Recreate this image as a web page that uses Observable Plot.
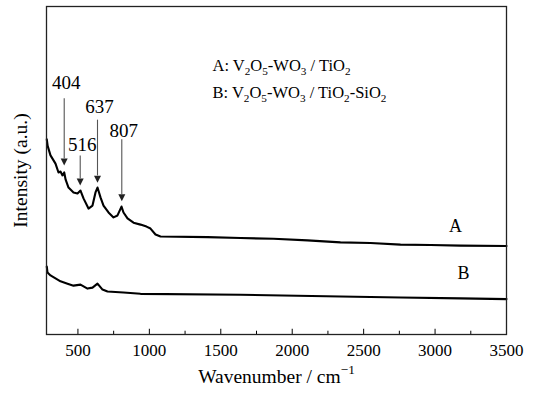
<!DOCTYPE html>
<html><head><meta charset="utf-8">
<script src="https://cdn.jsdelivr.net/npm/d3@7"></script>
<script src="https://cdn.jsdelivr.net/npm/@observablehq/plot@0.6"></script>
<style>
body{margin:0;background:#fff}
#chart svg, #chart svg text {font-family: "Liberation Serif", "Times New Roman", serif !important;}
</style>
</head><body><div id="chart"></div>
<script>
// Spectrum A: V2O5-WO3 / TiO2
const wnA = [282, 288, 308, 343, 364, 378, 392, 404, 414, 434, 469, 497, 518, 539, 574, 602, 623, 637, 658, 679, 714, 749, 777, 805, 819, 847, 889, 938, 980, 1008, 1043, 1078, 1407, 1638, 1869, 2107, 2338, 2548, 2758, 2968, 3178, 3500];
const intA = [59.5, 57.5, 54.6, 52.1, 49.4, 49.7, 48.5, 49.4, 47.2, 44.8, 43.3, 43.0, 43.9, 41.5, 38.4, 39.3, 43.3, 44.8, 41.8, 39.3, 37.2, 35.7, 36.3, 39.0, 37.2, 35.4, 34.1, 33.5, 32.9, 32.3, 30.5, 29.9, 29.7, 29.4, 29.2, 28.7, 28.1, 27.9, 27.4, 27.3, 27.1, 27.0];
// Spectrum B: V2O5-WO3 / TiO2-SiO2
const wnB = [282, 287, 308, 343, 378, 427, 469, 518, 567, 602, 637, 672, 707, 819, 938, 1638, 2338, 2758, 3178, 3500];
const intB = [20.7, 18.9, 18.0, 17.1, 16.2, 15.5, 14.9, 15.2, 14.0, 14.3, 15.5, 13.7, 13.1, 12.8, 12.4, 12.1, 11.6, 11.3, 11.0, 10.8];

const peaks = [404, 516, 637, 807];
const peakLabels = ["404", "516", "637", "807"];
const xTicks = [500, 1000, 1500, 2000, 2500, 3000, 3500];
const xMinorTicks = [750, 1250, 1750, 2250, 2750, 3250];
const legendLabels = ["A: V2O5-WO3 / TiO2", "B: V2O5-WO3 / TiO2-SiO2"];
const curveLabels = ["A", "B"];
const xTitle = "Wavenumber / cm−1";
const yTitle = "Intensity (a.u.)";

const dataA = wnA.map((w, i) => ({wn: w, v: intA[i]}));
const dataB = wnB.map((w, i) => ({wn: w, v: intB[i]}));

// annotation layout (intensity units)
const arrowTop = [72, 54.6, 65.5, 59.5];
const arrowTip = [51.5, 45.4, 46.3, 40.6];
const labelY = [76.8, 57.9, 69.5, 62.2];
const peakData = peaks.map((p, i) => ({wn: p, label: peakLabels[i], y1: arrowTop[i], y2: arrowTip[i] + 2.2, tip: arrowTip[i], ly: labelY[i]}));

const triDown = {draw(ctx) { ctx.moveTo(0, 0); ctx.lineTo(-3.5, -7); ctx.lineTo(3.5, -7); ctx.closePath(); }};

const serif = "Liberation Serif, Times New Roman, serif";
const chart = Plot.plot({
  width: 534, height: 397,
  marginLeft: 46, marginRight: 28, marginTop: 6, marginBottom: 63,
  style: {fontFamily: serif, background: "white", color: "black"},
  x: {domain: [280, 3500], label: null},
  y: {domain: [0, 100], axis: null},
  marks: [
    Plot.line(dataA, {x: "wn", y: "v", stroke: "black", strokeWidth: 2.1}),
    Plot.line(dataB, {x: "wn", y: "v", stroke: "black", strokeWidth: 2.1}),
    Plot.link(peakData, {x1: "wn", x2: "wn", y1: "y1", y2: "y2", stroke: "#555", strokeWidth: 1.1}),
    Plot.dot(peakData, {x: "wn", y: "tip", symbol: triDown, fill: "#222", stroke: null}),
    Plot.text(peakData, {x: "wn", y: "ly", text: "label", fontSize: 19, dx: 2, fill: "black", fontFamily: serif}),
    Plot.text(legendLabels, {x: 1442, y: (d, i) => [82.0, 73.8][i], text: d => d, textAnchor: "start", fontSize: 16.5, fill: "black", fontFamily: serif, className: "legend-lbl"}),
    Plot.text(curveLabels, {x: (d, i) => [3143, 3199][i], y: (d, i) => [32.9, 18.6][i], text: d => d, fontSize: 18, fill: "black", fontFamily: serif}),
    Plot.ruleX(xTicks, {x: d => d, y1: 0, y2: 1.6, stroke: "black", strokeWidth: 1}),
    Plot.ruleX(xMinorTicks, {x: d => d, y1: 0, y2: 1.0, stroke: "black", strokeWidth: 1}),
    Plot.axisX(xTicks, {tickSize: 0, tickPadding: 9, fontSize: 17, fill: "black", label: null, tickFormat: d => String(d), fontFamily: serif}),
    Plot.text([xTitle], {frameAnchor: "bottom", dy: 48, fontSize: 19.5, fill: "black", fontFamily: serif, className: "x-title"}),
    Plot.text([yTitle], {frameAnchor: "left", dx: -26, rotate: -90, textAnchor: "middle", fontSize: 19.5, fill: "black", fontFamily: serif}),
    Plot.frame({stroke: "#222", strokeWidth: 1.3})
  ]
});
document.getElementById("chart").appendChild(chart);

// chemical subscripts and unit superscript as real text
function richPx(el, parts, fs) {
  el.textContent = "";
  let shift = 0;
  for (const [s, mode] of parts) {
    const t = document.createElementNS("http://www.w3.org/2000/svg", "tspan");
    const target = mode === "sub" ? 0.28 * fs : mode === "sup" ? -0.42 * fs : 0;
    const dy = target - shift;
    if (dy) t.setAttribute("dy", dy.toFixed(2));
    if (mode) t.setAttribute("font-size", (0.68 * fs).toFixed(1));
    t.textContent = s;
    el.appendChild(t);
    shift = target;
  }
}
d3.select(chart).selectAll(".legend-lbl text").each(function() {
  const s = this.textContent;
  const parts = [];
  const re = /(\d+)|(\D+)/g; let m;
  while ((m = re.exec(s))) {
    if (m[1]) parts.push([m[1], "sub"]); else parts.push([m[2], null]);
  }
  richPx(this, parts, 16.5);
});
d3.select(chart).selectAll(".x-title text").each(function() {
  const s = this.textContent;
  const i = s.indexOf("−1");
  richPx(this, [[s.slice(0, i), null], [s.slice(i), "sup"]], 19.5);
});
</script>
</body></html>
